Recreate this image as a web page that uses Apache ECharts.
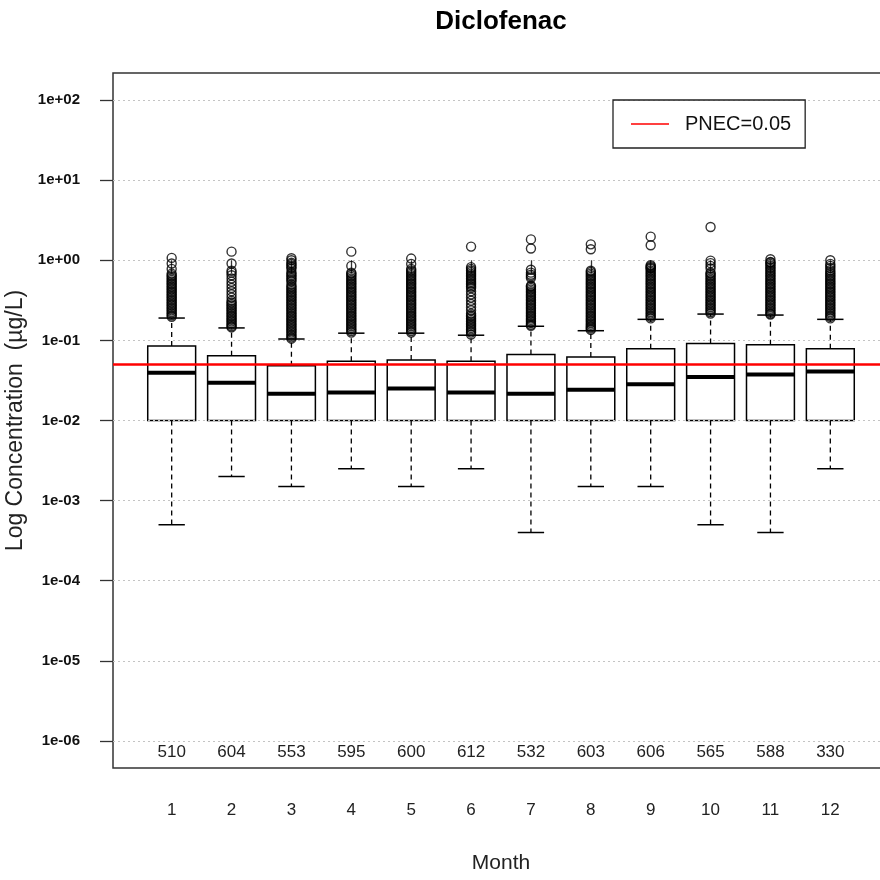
<!DOCTYPE html>
<html><head><meta charset="utf-8">
<script src="https://cdn.jsdelivr.net/npm/echarts@6/dist/echarts.min.js"></script>
<style>html,body{margin:0;padding:0;background:#fff}#c{width:880px;height:880px}</style>
</head><body><div id="c"></div>
<script>
const chartTitle = 'Diclofenac';
const months = [1,2,3,4,5,6,7,8,9,10,11,12];
const counts = [510,604,553,595,600,612,532,603,606,565,588,330];
const lowerWhisker = [0.0005,0.0020,0.0015,0.0025,0.0015,0.0025,0.0004,0.0015,0.0015,0.0005,0.0004,0.0025];
const q1 = [0.01,0.01,0.01,0.01,0.01,0.01,0.01,0.01,0.01,0.01,0.01,0.01];
const median = [0.0394,0.0296,0.0216,0.0224,0.0251,0.0224,0.0216,0.0242,0.0284,0.0348,0.0376,0.0410];
const q3 = [0.085,0.0644,0.0483,0.0547,0.0568,0.0547,0.0668,0.0619,0.0787,0.0917,0.0883,0.0787];
const upperWhisker = [0.19,0.143,0.104,0.123,0.123,0.116,0.15,0.132,0.183,0.213,0.207,0.183];
const out1 = [0.197,0.206,0.216,0.226,0.237,0.248,0.26,0.272,0.285,0.298,0.312,0.327,0.342,0.358,0.375,0.393,0.411,0.43,0.45,0.471,0.494,0.517,0.541,0.566,0.593,0.621,0.65,0.68,0.78,0.91,1.07];
const out2 = [0.145,0.15,0.157,0.164,0.172,0.18,0.188,0.197,0.206,0.216,0.226,0.237,0.248,0.26,0.272,0.285,0.298,0.312,0.342,0.375,0.411,0.45,0.494,0.541,0.593,0.65,0.70,0.74,0.91,1.28];
const out3 = [0.105,0.109,0.114,0.119,0.125,0.131,0.137,0.143,0.15,0.157,0.164,0.172,0.18,0.188,0.197,0.206,0.216,0.226,0.237,0.248,0.26,0.272,0.285,0.298,0.312,0.327,0.342,0.358,0.375,0.393,0.411,0.43,0.45,0.471,0.494,0.541,0.566,0.593,0.621,0.65,0.68,0.712,0.781,0.817,0.856,0.896,0.93,1.0,1.06];
const out4 = [0.125,0.131,0.137,0.143,0.15,0.157,0.164,0.172,0.18,0.188,0.197,0.206,0.216,0.226,0.237,0.248,0.26,0.272,0.285,0.298,0.312,0.327,0.342,0.358,0.375,0.393,0.411,0.43,0.45,0.471,0.494,0.517,0.541,0.566,0.593,0.621,0.65,0.68,0.70,0.85,1.28];
const out5 = [0.125,0.131,0.137,0.143,0.15,0.157,0.164,0.172,0.18,0.188,0.197,0.206,0.216,0.226,0.237,0.248,0.26,0.272,0.285,0.298,0.312,0.327,0.342,0.358,0.375,0.393,0.411,0.43,0.45,0.471,0.494,0.517,0.541,0.566,0.593,0.621,0.65,0.68,0.712,0.746,0.78,0.90,1.05];
const out6 = [0.118,0.125,0.131,0.137,0.143,0.15,0.157,0.164,0.172,0.18,0.188,0.197,0.206,0.216,0.237,0.26,0.285,0.312,0.342,0.375,0.411,0.45,0.471,0.494,0.517,0.541,0.566,0.593,0.621,0.65,0.68,0.712,0.746,0.781,0.82,1.48];
const out7 = [0.152,0.157,0.164,0.172,0.18,0.188,0.197,0.206,0.216,0.226,0.237,0.248,0.26,0.272,0.285,0.298,0.312,0.327,0.342,0.358,0.375,0.393,0.411,0.43,0.45,0.471,0.48,0.60,0.63,0.66,0.70,0.76,1.40,1.82];
const out8 = [0.135,0.14,0.145,0.15,0.157,0.164,0.172,0.18,0.188,0.197,0.206,0.216,0.226,0.237,0.248,0.26,0.272,0.285,0.298,0.312,0.327,0.342,0.358,0.375,0.393,0.411,0.43,0.45,0.471,0.494,0.517,0.541,0.566,0.593,0.621,0.65,0.68,0.712,0.74,1.37,1.58];
const out9 = [0.188,0.197,0.206,0.216,0.226,0.237,0.248,0.26,0.272,0.285,0.298,0.312,0.327,0.342,0.358,0.375,0.393,0.411,0.43,0.45,0.471,0.494,0.517,0.541,0.566,0.593,0.621,0.65,0.68,0.712,0.746,0.781,0.80,0.82,0.845,0.87,1.54,1.97];
const out10 = [0.216,0.226,0.237,0.248,0.26,0.272,0.285,0.298,0.312,0.327,0.342,0.358,0.375,0.393,0.411,0.43,0.45,0.471,0.494,0.517,0.541,0.566,0.593,0.621,0.65,0.68,0.70,0.79,0.85,0.92,0.99,2.6];
const out11 = [0.21,0.216,0.226,0.237,0.248,0.26,0.272,0.285,0.298,0.312,0.327,0.342,0.358,0.375,0.393,0.411,0.43,0.45,0.471,0.494,0.517,0.541,0.566,0.593,0.621,0.65,0.68,0.712,0.746,0.781,0.817,0.856,0.896,0.938,0.95,1.03];
const out12 = [0.188,0.197,0.206,0.216,0.226,0.237,0.248,0.26,0.272,0.285,0.298,0.312,0.327,0.342,0.358,0.375,0.393,0.411,0.43,0.45,0.471,0.494,0.517,0.541,0.566,0.593,0.621,0.65,0.68,0.712,0.75,0.80,0.85,0.90,1.0];
const outliers = [out1,out2,out3,out4,out5,out6,out7,out8,out9,out10,out11,out12];
const pnec = 0.05;
const pnecName = 'PNEC=0.05';
const yTickExponents = [-6,-5,-4,-3,-2,-1,0,1,2];
const xName = 'Month';
const yName = 'Log Concentration  (\u00b5g/L)';

const FONT = 'Liberation Sans, Arial, Helvetica, sans-serif';
const L = Math.log10;

const boxData = months.map((m,i)=>[m, L(lowerWhisker[i]), L(q1[i]), L(median[i]), L(q3[i]), L(upperWhisker[i])]);
const outData = [];
outliers.forEach((arr,i)=>arr.forEach(v=>outData.push([months[i], L(v)])));
const countData = months.map((m,i)=>[m, yTickExponents[0], counts[i]]);

function renderBox(params, api){
  const x = api.value(0);
  const lo = api.coord([x, api.value(1)]);
  const p1 = api.coord([x, api.value(2)]);
  const pm = api.coord([x, api.value(3)]);
  const p3 = api.coord([x, api.value(4)]);
  const hi = api.coord([x, api.value(5)]);
  const bw = api.size([0.8, 0])[0];
  const cw = api.size([0.44, 0])[0];
  const cx = p1[0];
  const k = '#000';
  return {type:'group', children:[
    {type:'line', shape:{x1:cx,y1:p3[1],x2:cx,y2:hi[1]}, style:{stroke:k,lineWidth:1.3,lineDash:[5,4]}},
    {type:'line', shape:{x1:cx,y1:p1[1],x2:cx,y2:lo[1]}, style:{stroke:k,lineWidth:1.3,lineDash:[5,4]}},
    {type:'line', shape:{x1:cx-cw/2,y1:hi[1],x2:cx+cw/2,y2:hi[1]}, style:{stroke:k,lineWidth:1.5}},
    {type:'line', shape:{x1:cx-cw/2,y1:lo[1],x2:cx+cw/2,y2:lo[1]}, style:{stroke:k,lineWidth:1.5}},
    {type:'rect', shape:{x:cx-bw/2,y:p3[1],width:bw,height:p1[1]-p3[1]}, style:{fill:'#fff',stroke:k,lineWidth:1.5}},
    {type:'line', shape:{x1:cx-bw/2,y1:pm[1],x2:cx+bw/2,y2:pm[1]}, style:{stroke:k,lineWidth:4}}
  ]};
}
function renderCount(params, api){
  const p = api.coord([api.value(0), api.value(1)]);
  return {type:'text', x:p[0], y:p[1]+3, style:{text:String(api.value(2)), fill:'#222', font:'17px '+FONT, align:'center', verticalAlign:'top'}};
}
function expLabel(v){
  const e = Math.round(v);
  const a = Math.abs(e);
  return '1e' + (e<0?'-':'+') + (a<10?'0':'') + a;
}

const chart = echarts.init(document.getElementById('c'), null, {renderer:'canvas'});
chart.setOption({
  animation:false,
  backgroundColor:'#fff',
  title:{text:chartTitle, left:501, top:9, textAlign:'center', padding:0,
    textStyle:{fontSize:26, fontWeight:'bold', color:'#000', fontFamily:FONT}},
  legend:{left:613, top:100, orient:'horizontal', selectedMode:false,
    borderColor:'#222', borderWidth:1.3, padding:[12,14,12,18],
    itemWidth:38, itemHeight:1.5, icon:'rect',
    textStyle:{fontSize:20, color:'#111', fontFamily:FONT, padding:[0,0,0,11], lineHeight:24},
    data:[pnecName]},
  grid:{left:113, top:73, right:-9, bottom:112, show:true, borderColor:'#333', borderWidth:1.5, backgroundColor:'transparent', containLabel:false, outerBoundsMode:'none'},
  xAxis:{type:'value', min:0.02, max:12.98, name:xName, nameLocation:'middle', nameGap:85,
    nameTextStyle:{fontSize:21, color:'#222', fontFamily:FONT},
    axisLine:{show:false},
    axisTick:{show:true, length:13, customValues:months, lineStyle:{color:'#333', width:1.3}},
    axisLabel:{customValues:months, margin:34, fontSize:17, color:'#222', fontFamily:FONT},
    splitLine:{show:false}},
  yAxis:{type:'value', min:-6.337, max:2.337, z:3, name:yName, nameLocation:'middle', nameGap:79,
    nameTextStyle:{fontSize:23, color:'#222', fontFamily:FONT},
    axisLine:{show:false},
    axisTick:{show:true, length:13, customValues:yTickExponents, lineStyle:{color:'#333', width:1.3}},
    axisLabel:{customValues:yTickExponents, margin:33, fontSize:15, fontWeight:'bold', color:'#111', fontFamily:FONT, formatter:expLabel},
    splitLine:{show:true, lineStyle:{color:'#c4c4c4', width:1.2, type:[2,3]}}},
  series:[
    {type:'custom', name:'boxes', renderItem:renderBox, data:boxData, encode:{x:0, y:[1,2,3,4,5]}, z:2, silent:true},
    {type:'scatter', name:'outliers', data:outData, symbol:'circle', symbolSize:9, z:4, silent:true,
      itemStyle:{color:'rgba(0,0,0,0)', borderColor:'#000', borderWidth:1.4}},
    {type:'custom', name:'counts', renderItem:renderCount, data:countData, encode:{x:0, y:1}, z:5, silent:true},
    {type:'line', name:pnecName, data:[], color:'#ff0000', showSymbol:false, z:6,
      markLine:{symbol:'none', silent:true, label:{show:false}, lineStyle:{color:'#ff0000', width:2.5, type:'solid'},
        data:[{yAxis:L(pnec)}]}}
  ]
});
</script></body></html>
